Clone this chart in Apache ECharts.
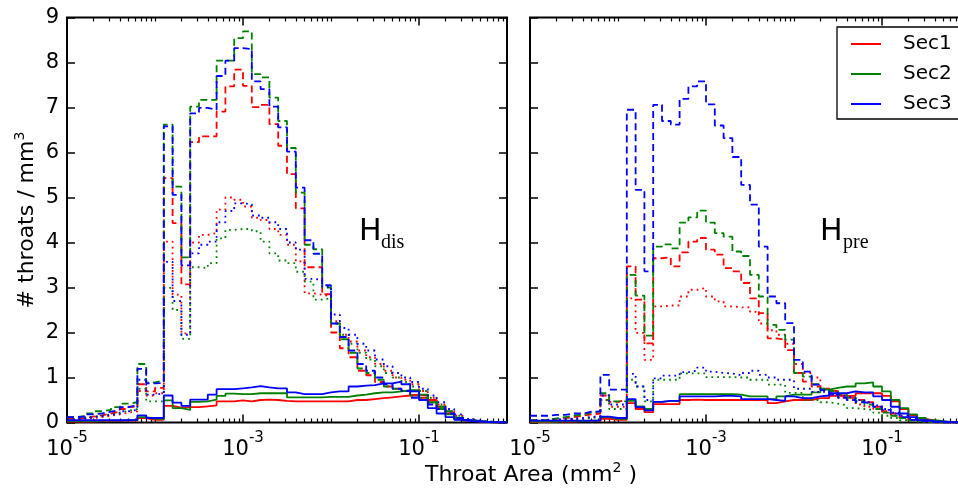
<!DOCTYPE html>
<html>
<head>
<meta charset="utf-8">
<script src="https://cdn.jsdelivr.net/npm/echarts@6/dist/echarts.min.js"></script>
<style>
  html, body { margin: 0; padding: 0; background: #fff; }
  #chart { width: 958px; height: 489px; }
</style>
</head>
<body>
<div id="chart"></div>
<script>
// bin edges, as powers of ten (0.1 decade bins from 1e-5 to 1e0)
const binEdgeExp = [
  -5.0, -4.9, -4.8, -4.7, -4.6, -4.5, -4.4, -4.3, -4.2, -4.1,
  -4.0, -3.9, -3.8, -3.7, -3.6, -3.5, -3.4, -3.3, -3.2, -3.1,
  -3.0, -2.9, -2.8, -2.7, -2.6, -2.5, -2.4, -2.3, -2.2, -2.1,
  -2.0, -1.9, -1.8, -1.7, -1.6, -1.5, -1.4, -1.3, -1.2, -1.1,
  -1.0, -0.9, -0.8, -0.7, -0.6, -0.5, -0.4, -0.3, -0.2, -0.1, 0.0
]
const sections = ['Sec1', 'Sec2', 'Sec3']
const xTickValues = [1e-5, 1e-3, 1e-1]
const yTicks = [0, 1, 2, 3, 4, 5, 6, 7, 8, 9]
const minorTicks = [
  2e-5, 3e-5, 4e-5, 5e-5, 6e-5, 7e-5, 8e-5, 9e-5, 1e-4,
  2e-4, 3e-4, 4e-4, 5e-4, 6e-4, 7e-4, 8e-4, 9e-4,
  2e-3, 3e-3, 4e-3, 5e-3, 6e-3, 7e-3, 8e-3, 9e-3, 1e-2,
  2e-2, 3e-2, 4e-2, 5e-2, 6e-2, 7e-2, 8e-2, 9e-2,
  2e-1, 3e-1, 4e-1, 5e-1, 6e-1, 7e-1, 8e-1, 9e-1
]

// ---- H_dis panel ----
const hdisDashSec1 = [0.08, 0.1, 0.13, 0.16, 0.2, 0.24, 0.3, 0.35, 0.85, 0.69, 0.77, 5.43, 4.43, 3.07, 6.23, 6.36, 6.36, 6.91, 7.47, 7.84, 7.48, 7.01, 7.06, 6.63, 6.15, 5.52, 4.76, 3.45, 3.45, 2.85, 2.0, 1.65, 1.45, 1.15, 1.05, 0.9, 0.8, 0.75, 0.7, 0.6, 0.55, 0.45, 0.35, 0.2, 0.1, 0.05, 0.02, 0.01, 0, 0]
const hdisDashSec2 = [0.12, 0.14, 0.2, 0.25, 0.28, 0.34, 0.42, 0.45, 1.3, 0.89, 0.93, 6.62, 5.24, 3.67, 7.02, 7.17, 7.17, 8.04, 8.04, 8.54, 8.69, 7.74, 7.67, 7.22, 6.7, 6.1, 5.11, 3.95, 3.85, 3.0, 2.2, 1.85, 1.55, 1.2, 1.1, 0.95, 0.8, 0.75, 0.7, 0.6, 0.55, 0.45, 0.35, 0.25, 0.12, 0.06, 0.03, 0.02, 0.01, 0]
const hdisDashSec3 = [0.12, 0.13, 0.18, 0.2, 0.24, 0.28, 0.34, 0.38, 1.19, 0.87, 0.88, 6.58, 5.06, 3.49, 6.87, 6.99, 6.95, 7.7, 8.04, 8.32, 8.3, 7.58, 7.41, 7.02, 6.56, 6.02, 5.22, 4.05, 3.75, 3.05, 2.2, 1.9, 1.6, 1.3, 1.15, 1.0, 0.85, 0.75, 0.7, 0.55, 0.5, 0.4, 0.3, 0.2, 0.1, 0.05, 0.03, 0.01, 0, 0]
const hdisDotSec1 = [0.06, 0.08, 0.1, 0.12, 0.15, 0.18, 0.22, 0.25, 0.7, 0.6, 0.65, 4.02, 2.84, 1.98, 4.0, 4.17, 4.21, 4.73, 5.0, 4.95, 4.8, 4.55, 4.5, 4.3, 4.17, 3.95, 3.58, 2.87, 2.84, 2.8, 2.25, 1.95, 1.8, 1.6, 1.45, 1.3, 1.15, 1.0, 0.95, 0.85, 0.7, 0.55, 0.4, 0.25, 0.15, 0.06, 0.03, 0.01, 0, 0]
const hdisDotSec2 = [0.08, 0.1, 0.13, 0.15, 0.18, 0.22, 0.26, 0.3, 0.75, 0.47, 0.47, 2.99, 2.5, 1.86, 3.45, 3.43, 3.54, 4.09, 4.28, 4.3, 4.3, 4.25, 4.02, 3.76, 3.6, 3.54, 3.35, 3.13, 2.73, 2.76, 2.2, 1.95, 1.75, 1.55, 1.4, 1.25, 1.1, 1.0, 0.9, 0.8, 0.7, 0.55, 0.4, 0.25, 0.15, 0.06, 0.03, 0.01, 0, 0]
const hdisDotSec3 = [0.07, 0.09, 0.12, 0.14, 0.17, 0.2, 0.25, 0.28, 0.95, 0.62, 0.65, 3.57, 2.7, 1.95, 3.76, 3.95, 4.02, 4.45, 4.7, 4.87, 4.85, 4.6, 4.55, 4.45, 4.3, 4.0, 3.84, 3.19, 3.17, 3.02, 2.4, 2.1, 1.95, 1.75, 1.6, 1.4, 1.25, 1.1, 1.0, 0.9, 0.75, 0.6, 0.45, 0.3, 0.18, 0.08, 0.04, 0.02, 0.01, 0]
const hdisSolidSec1 = [0.02, 0.02, 0.02, 0.03, 0.03, 0.03, 0.04, 0.04, 0.1, 0.06, 0.06, 0.37, 0.33, 0.34, 0.34, 0.36, 0.38, 0.47, 0.47, 0.49, 0.47, 0.5, 0.51, 0.5, 0.48, 0.47, 0.47, 0.47, 0.47, 0.47, 0.47, 0.47, 0.5, 0.5, 0.52, 0.54, 0.56, 0.58, 0.6, 0.62, 0.6, 0.5, 0.35, 0.2, 0.1, 0.05, 0.02, 0.01, 0, 0]
const hdisSolidSec2 = [0.03, 0.03, 0.03, 0.04, 0.04, 0.04, 0.05, 0.05, 0.12, 0.08, 0.08, 0.49, 0.32, 0.28, 0.46, 0.47, 0.51, 0.59, 0.64, 0.63, 0.63, 0.65, 0.65, 0.65, 0.65, 0.56, 0.56, 0.56, 0.56, 0.57, 0.57, 0.57, 0.6, 0.62, 0.65, 0.67, 0.67, 0.69, 0.72, 0.72, 0.62, 0.45, 0.3, 0.18, 0.1, 0.05, 0.03, 0.01, 0, 0]
const hdisSolidSec3 = [0.05, 0.05, 0.05, 0.05, 0.05, 0.05, 0.05, 0.06, 0.16, 0.1, 0.1, 0.6, 0.44, 0.37, 0.51, 0.51, 0.62, 0.74, 0.74, 0.76, 0.78, 0.81, 0.78, 0.76, 0.76, 0.67, 0.63, 0.63, 0.63, 0.67, 0.69, 0.69, 0.8, 0.82, 0.83, 0.87, 0.87, 0.91, 0.85, 0.69, 0.5, 0.32, 0.2, 0.12, 0.06, 0.03, 0.02, 0.01, 0, 0]

// ---- H_pre panel ----
const hpreDashSec1 = [0.05, 0.06, 0.08, 0.1, 0.12, 0.15, 0.18, 0.2, 0.6, 0.46, 0.5, 3.47, 2.73, 1.76, 3.65, 3.67, 3.47, 3.78, 4.02, 4.1, 3.84, 3.73, 3.43, 3.36, 3.1, 2.76, 2.43, 1.87, 1.84, 1.61, 1.1, 0.91, 0.8, 0.75, 0.7, 0.6, 0.55, 0.5, 0.45, 0.35, 0.25, 0.2, 0.12, 0.06, 0.03, 0.01, 0, 0, 0, 0]
const hpreDashSec2 = [0.05, 0.06, 0.09, 0.12, 0.15, 0.18, 0.22, 0.25, 0.65, 0.47, 0.47, 3.28, 2.82, 1.93, 3.91, 3.96, 3.87, 4.44, 4.56, 4.71, 4.44, 4.21, 4.13, 3.8, 3.7, 3.28, 2.8, 2.17, 2.06, 1.84, 1.1, 1.02, 0.85, 0.75, 0.7, 0.62, 0.55, 0.48, 0.4, 0.3, 0.22, 0.15, 0.1, 0.05, 0.02, 0.01, 0, 0, 0, 0]
const hpreDashSec3 = [0.15, 0.15, 0.17, 0.17, 0.2, 0.2, 0.24, 0.24, 1.06, 0.73, 0.73, 6.95, 5.17, 3.36, 7.06, 6.7, 6.62, 7.19, 7.47, 7.58, 7.07, 6.6, 6.32, 5.9, 5.28, 4.84, 3.91, 2.8, 2.65, 2.21, 1.39, 1.13, 0.84, 0.72, 0.62, 0.55, 0.5, 0.45, 0.42, 0.35, 0.28, 0.2, 0.12, 0.06, 0.03, 0.01, 0, 0, 0, 0]
const hpreDotSec1 = [0.03, 0.04, 0.05, 0.06, 0.08, 0.1, 0.12, 0.14, 0.5, 0.35, 0.35, 2.76, 1.99, 1.39, 2.58, 2.6, 2.6, 2.8, 2.95, 2.99, 2.8, 2.69, 2.58, 2.56, 2.56, 2.46, 2.2, 2.05, 1.95, 1.75, 1.3, 1.1, 1.0, 0.75, 0.65, 0.55, 0.5, 0.4, 0.35, 0.3, 0.22, 0.15, 0.1, 0.05, 0.02, 0, 0, 0, 0, 0]
const hpreDotSec2 = [0.03, 0.04, 0.05, 0.06, 0.07, 0.08, 0.1, 0.12, 0.5, 0.3, 0.3, 0.95, 0.8, 0.47, 0.95, 0.95, 0.95, 1.09, 1.09, 1.09, 1.01, 1.01, 1.01, 1.0, 1.0, 0.95, 0.95, 0.84, 0.84, 0.66, 0.66, 0.5, 0.5, 0.45, 0.42, 0.38, 0.32, 0.3, 0.28, 0.22, 0.15, 0.1, 0.05, 0.02, 0.01, 0, 0, 0, 0, 0]
const hpreDotSec3 = [0.05, 0.06, 0.07, 0.08, 0.09, 0.1, 0.12, 0.14, 0.6, 0.4, 0.4, 1.08, 0.8, 0.5, 0.98, 1.04, 1.04, 1.12, 1.15, 1.22, 1.13, 1.1, 1.09, 1.05, 1.1, 1.15, 1.06, 1.0, 0.95, 0.95, 0.75, 0.75, 0.68, 0.68, 0.62, 0.58, 0.55, 0.5, 0.45, 0.38, 0.3, 0.22, 0.15, 0.08, 0.04, 0.02, 0, 0, 0, 0]
const hpreSolidSec1 = [0.01, 0.01, 0.02, 0.02, 0.02, 0.03, 0.03, 0.03, 0.08, 0.06, 0.06, 0.43, 0.3, 0.23, 0.41, 0.41, 0.41, 0.5, 0.51, 0.5, 0.5, 0.5, 0.5, 0.5, 0.5, 0.5, 0.5, 0.43, 0.47, 0.5, 0.5, 0.5, 0.54, 0.54, 0.59, 0.59, 0.59, 0.65, 0.65, 0.65, 0.59, 0.47, 0.3, 0.16, 0.08, 0.04, 0.02, 0.01, 0, 0]
const hpreSolidSec2 = [0.02, 0.02, 0.02, 0.03, 0.03, 0.03, 0.04, 0.04, 0.12, 0.08, 0.08, 0.48, 0.36, 0.3, 0.46, 0.48, 0.48, 0.63, 0.63, 0.63, 0.63, 0.63, 0.63, 0.62, 0.58, 0.58, 0.58, 0.52, 0.58, 0.62, 0.62, 0.62, 0.67, 0.73, 0.77, 0.8, 0.8, 0.87, 0.89, 0.8, 0.69, 0.5, 0.32, 0.18, 0.1, 0.05, 0.03, 0.01, 0, 0]
const hpreSolidSec3 = [0.04, 0.04, 0.04, 0.04, 0.04, 0.04, 0.04, 0.04, 0.13, 0.1, 0.1, 0.52, 0.34, 0.27, 0.46, 0.48, 0.48, 0.58, 0.58, 0.58, 0.58, 0.59, 0.59, 0.58, 0.52, 0.52, 0.52, 0.5, 0.48, 0.58, 0.54, 0.54, 0.58, 0.6, 0.65, 0.65, 0.69, 0.67, 0.67, 0.58, 0.5, 0.35, 0.2, 0.12, 0.05, 0.03, 0.02, 0.01, 0, 0]

const colors = ['#ff0000', '#008000', '#0000ff']
const FONT = 'DejaVu Sans'
const DASHED = [7, 4]
const DOTTED = [1.8, 4]

const myChart = echarts.init(document.getElementById('chart'), null, { renderer: 'canvas' })

// histogram outline: one point per bin left edge, plus closing right edge
function steps(vals) {
  const pts = vals.map((v, i) => [Math.pow(10, binEdgeExp[i]), v])
  pts.push([Math.pow(10, binEdgeExp[vals.length]), vals[vals.length - 1]])
  return pts
}

function histSeries(name, vals, grid, color, dash) {
  return {
    name: name,
    type: 'line',
    xAxisIndex: grid * 4,
    yAxisIndex: grid * 2,
    step: 'end',
    data: steps(vals),
    symbol: 'none',
    showSymbol: false,
    silent: true,
    color: color,
    lineStyle: { color: color, width: 1.8, type: dash, cap: 'butt' }
  }
}

function xAxes(grid) {
  const base = {
    type: 'log',
    logBase: 10,
    min: 1e-5,
    max: 1,
    gridIndex: grid,
    axisLine: { show: false, onZero: false },
    splitLine: { show: false },
    minorTick: { show: false }
  }
  const major = (pos, labels) => Object.assign({}, base, {
    position: pos,
    axisTick: { inside: true, length: 8, customValues: xTickValues, lineStyle: { color: '#000', width: 1.5 } },
    axisLabel: {
      show: labels,
      customValues: xTickValues,
      margin: 8,
      formatter: function (v) {
        const e = Math.round(Math.log10(v))
        return '{b|10}{s|' + e + '}'
      },
      rich: {
        b: { fontSize: 21, fontFamily: FONT, color: '#000', lineHeight: 30, verticalAlign: 'bottom' },
        s: { fontSize: 15, fontFamily: FONT, color: '#000', lineHeight: 30, verticalAlign: 'top' }
      }
    }
  })
  const minor = (pos) => Object.assign({}, base, {
    position: pos,
    axisTick: { inside: true, length: 4, customValues: minorTicks, lineStyle: { color: '#000', width: 1.2 } },
    axisLabel: { show: false }
  })
  return [major('bottom', true), minor('bottom'), major('top', false), minor('top')]
}

function yAxes(grid) {
  const base = {
    type: 'value',
    min: yTicks[0],
    max: yTicks[yTicks.length - 1],
    interval: 1,
    gridIndex: grid,
    axisLine: { show: false, onZero: false },
    splitLine: { show: false },
    axisTick: { inside: true, length: 8, lineStyle: { color: '#000', width: 1.5 } }
  }
  const left = Object.assign({}, base, {
    position: 'left',
    axisLabel: { show: grid === 0, fontSize: 21, fontFamily: FONT, color: '#000', margin: 8 }
  })
  if (grid === 0) {
    left.name = '# throats / mm{s|3}'
    left.nameLocation = 'middle'
    left.nameGap = 26
    left.nameTextStyle = {
      fontSize: 22, fontFamily: FONT, color: '#000',
      rich: { s: { fontSize: 14, fontFamily: FONT, color: '#000', verticalAlign: 'top', lineHeight: 28 } }
    }
  }
  const right = Object.assign({}, base, { position: 'right', axisLabel: { show: false } })
  return [left, right]
}

const panels = [
  [hdisDashSec1, hdisDashSec2, hdisDashSec3, hdisDotSec1, hdisDotSec2, hdisDotSec3, hdisSolidSec1, hdisSolidSec2, hdisSolidSec3],
  [hpreDashSec1, hpreDashSec2, hpreDashSec3, hpreDotSec1, hpreDotSec2, hpreDotSec3, hpreSolidSec1, hpreSolidSec2, hpreSolidSec3]
]

const series = []
panels.forEach((p, g) => {
  for (let s = 0; s < 3; s++) {
    series.push(histSeries(sections[s] + ' dashed', p[s], g, colors[s], DASHED))
    series.push(histSeries(sections[s] + ' dotted', p[3 + s], g, colors[s], DOTTED))
    series.push(histSeries(sections[s], p[6 + s], g, colors[s], 'solid'))
  }
})

const option = {
  animation: false,
  backgroundColor: '#fff',
  textStyle: { fontFamily: FONT },
  grid: [
    { left: 67, top: 17.5, width: 440, height: 405, show: true, borderColor: '#000', borderWidth: 2, outerBoundsMode: 'none', containLabel: false },
    { left: 530, top: 17.5, width: 440, height: 405, show: true, borderColor: '#000', borderWidth: 2, outerBoundsMode: 'none', containLabel: false }
  ],
  xAxis: xAxes(0).concat(xAxes(1)),
  yAxis: yAxes(0).concat(yAxes(1)),
  legend: {
    data: sections,
    orient: 'vertical',
    left: 837,
    top: 27,
    icon: 'rect',
    itemWidth: 30,
    itemHeight: 2,
    itemGap: 10,
    padding: [7, 40, 5, 14],
    borderColor: '#000',
    borderWidth: 1.3,
    backgroundColor: '#fff',
    selectedMode: false,
    textStyle: { fontSize: 20, fontFamily: FONT, color: '#000', padding: [0, 0, 0, 17] }
  },
  title: {
    text: 'Throat Area (mm{s|2} )',
    left: 531,
    top: 461,
    textAlign: 'center',
    padding: 0,
    textStyle: {
      fontSize: 22, fontFamily: FONT, fontWeight: 'normal', color: '#000', lineHeight: 28,
      rich: { s: { fontSize: 14, fontFamily: FONT, color: '#000', verticalAlign: 'top', lineHeight: 28 } }
    }
  },
  graphic: [
    { type: 'text', x: 359, y: 232, style: { text: 'H', font: '30px "DejaVu Sans"', fill: '#000', verticalAlign: 'middle' } },
    { type: 'text', x: 381, y: 243, style: { text: 'dis', font: '20px "Liberation Serif"', fill: '#000', verticalAlign: 'middle' } },
    { type: 'text', x: 820, y: 232, style: { text: 'H', font: '30px "DejaVu Sans"', fill: '#000', verticalAlign: 'middle' } },
    { type: 'text', x: 843, y: 243, style: { text: 'pre', font: '20px "Liberation Serif"', fill: '#000', verticalAlign: 'middle' } }
  ],
  series: series
}

myChart.setOption(option)
</script>
</body>
</html>
